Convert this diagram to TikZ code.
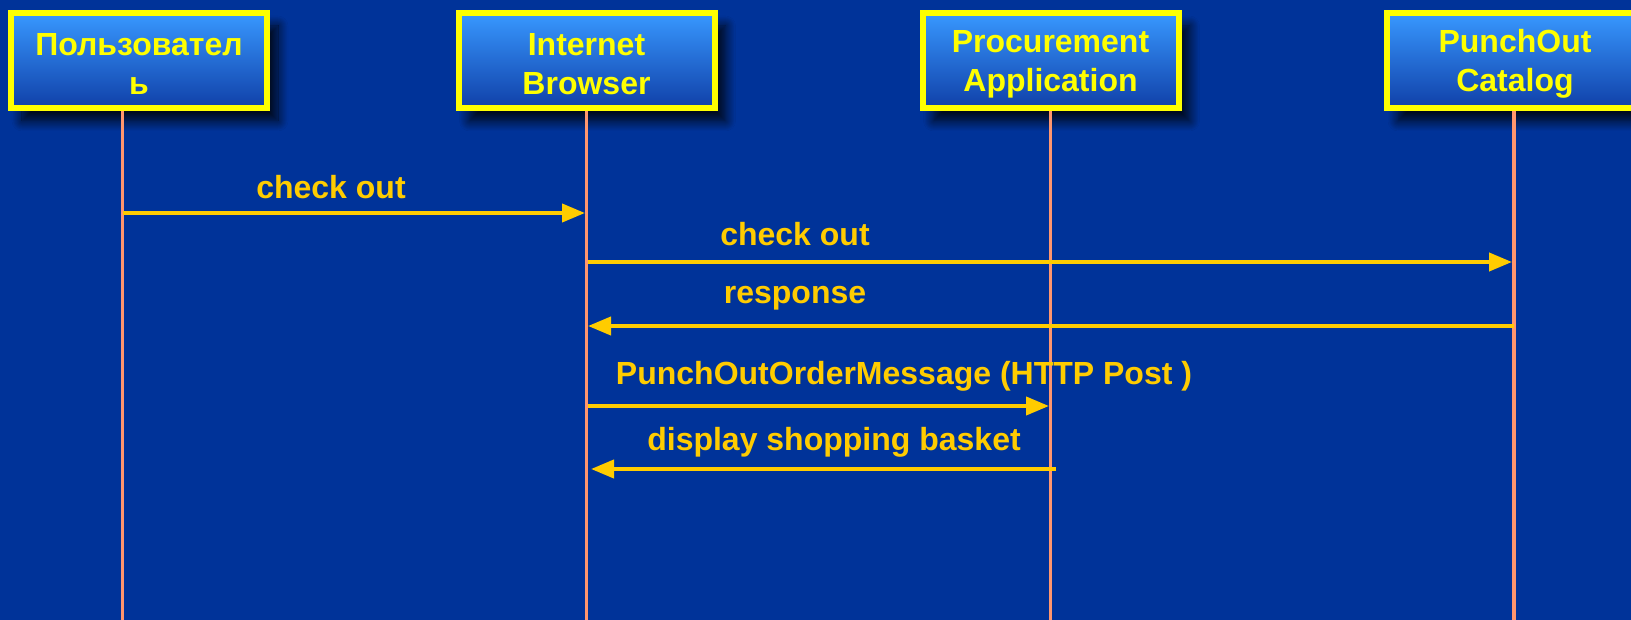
\documentclass[tikz,border=0pt]{standalone}
\usepackage{fontspec}
\setmainfont{Liberation Sans}
\usetikzlibrary{arrows.meta,shadows.blur}
\definecolor{bg}{RGB}{0,51,153}
\definecolor{boxyellow}{RGB}{255,255,0}
\definecolor{msggold}{RGB}{255,204,0}
\definecolor{lifeline}{RGB}{255,150,110}
\definecolor{boxtop}{RGB}{56,152,255}
\definecolor{boxbot}{RGB}{16,64,168}
\definecolor{shadowc}{RGB}{0,20,70}
\newcommand{\boxtxt}[1]{\raisebox{-3.5pt}[\height][\depth]{\parbox{250pt}{\centering #1}}}
\begin{document}
\begin{tikzpicture}[x=1pt,y=-1pt,
  actor/.style={draw=boxyellow, line width=6pt, top color=boxtop, bottom color=boxbot,
    minimum width=256pt, minimum height=95pt, inner sep=0pt, align=center,
    text=boxyellow, font=\fontsize{32}{39}\selectfont\bfseries,
    blur shadow={shadow xshift=11pt, shadow yshift=-13pt, shadow blur radius=10pt, shadow opacity=85, shadow blur steps=12, fill=shadowc}},
  lline/.style={draw=lifeline, line width=3.5pt},
  msg/.style={draw=msggold, line width=4pt, -{Triangle[length=23pt,width=18pt]}},
  lbl/.style={text=msggold, font=\fontsize{32}{38}\selectfont\bfseries, inner sep=0pt}]
\fill[bg] (0,0) rectangle (1631,620);
\useasboundingbox (0,0) rectangle (1631,620);
% lifeline bottoms
\coordinate (l1) at (122.7,620);
\coordinate (l2) at (586.7,620);
\coordinate (l3) at (1050.5,620);
\coordinate (l4) at (1514,620);
% actors
\node[actor] (b1) at (139,60.5) {\boxtxt{Пользовател\\ь}};
\node[actor] (b2) at (586.5,60.5) {\boxtxt{Internet\\Browser}};
\node[actor] (b3) at (1050.5,60.5) {\boxtxt{Procurement\\Application}};
\node[actor] (b4) at (1515,60.5) {\boxtxt{PunchOut\\Catalog}};
% lifelines
\draw[lline] (l1 |- b1.south) -- (l1);
\draw[lline] (l2 |- b2.south) -- (l2);
\draw[lline] (l3 |- b3.south) -- (l3);
\draw[lline] (l4 |- b4.south) -- (l4);
% message end points
\coordinate (m1s) at (122.7,213);
\coordinate (m1e) at (585,213);
\coordinate (m2s) at (588,262);
\coordinate (m2e) at (1512,262);
\coordinate (m3s) at (1514,326);
\coordinate (m3e) at (588,326);
\coordinate (m4s) at (588,406);
\coordinate (m4e) at (1049,406);
\coordinate (m5s) at (1056,469);
\coordinate (m5e) at (591,469);
% messages
\draw[msg] (m1s) -- (m1e);
\draw[msg] (m2s) -- (m2e);
\draw[msg] (m3s) -- (m3e);
\draw[msg] (m4s) -- (m4e);
\draw[msg] (m5s) -- (m5e);
% labels
\node[lbl] (t1) at (331,187) {check out};
\node[lbl] (t2) at (795,234) {check out};
\node[lbl] (t3) at (795,298) {response};
\node[lbl] (t4) at (904,376) {PunchOutOrderMessage (HTTP Post )};
\node[lbl] (t5) at (834,442) {display shopping basket};
\end{tikzpicture}
\end{document}
